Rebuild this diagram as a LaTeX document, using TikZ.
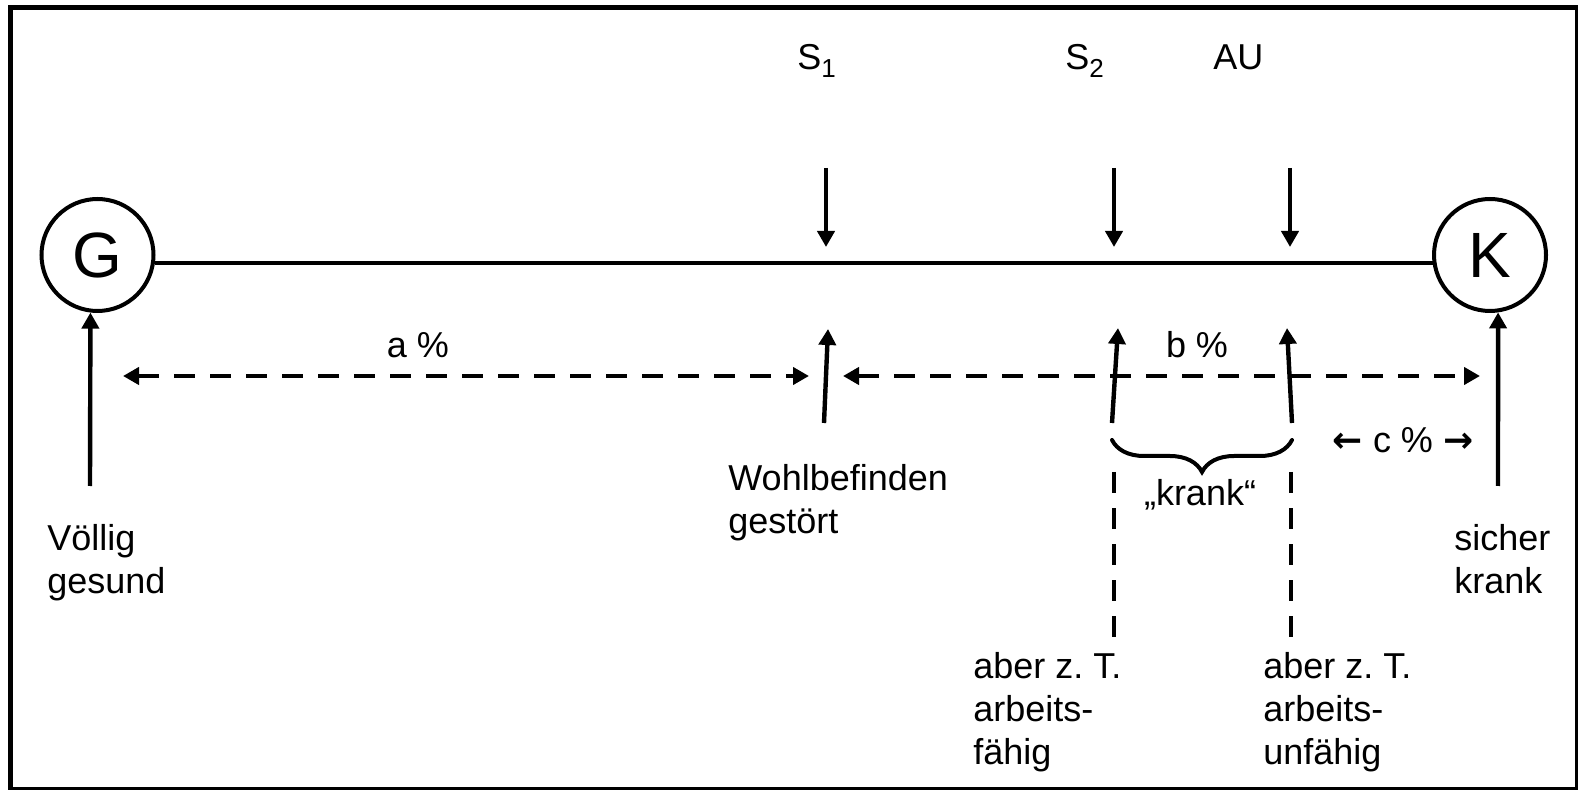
\documentclass[tikz,border=0pt]{standalone}
\usepackage{fontspec}
\setmainfont{Liberation Sans}
\newfontfamily\arrowfont{DejaVu Sans}
\usetikzlibrary{arrows.meta,decorations.pathreplacing}
\frenchspacing
\begin{document}
\begin{tikzpicture}[x=0.5pt,y=-0.5pt,
  lbl/.style={font=\fontsize{18}{21.5}\selectfont, inner sep=0pt, anchor=base west, align=left},
  endpt/.style={circle, draw, line width=2pt, minimum size=56pt, inner sep=0pt, font=\fontsize{32}{38}\selectfont},
  arr/.style={line width=2.2pt, -{Triangle[length=8pt,width=8.5pt]}},
  darr/.style={line width=2.2pt, dash pattern=on 10.5pt off 7.5pt, {Triangle[length=8pt,width=8.5pt]}-{Triangle[length=8pt,width=8.5pt]}},
  dline/.style={line width=2.2pt, dash pattern=on 10.5pt off 7.5pt},
  bracestyle/.style={line width=2pt, line cap=round, decorate, decoration={brace, mirror, amplitude=16pt}}]
\useasboundingbox (0,0) rectangle (1578,790);
\draw[line width=2.5pt] (10,8) rectangle (1577,789.5);

% end points
\node[endpt] (G) at (97.5,255) {G};
\node[endpt] (K) at (1490,255) {K};
\draw[line width=2pt] (G.-8) -- (K.188);

% top labels
\node[lbl] (s1) at (797,70) {S\raisebox{-4pt}{\fontsize{13}{13}\selectfont 1}};
\node[lbl] (s2) at (1065,70) {S\raisebox{-4pt}{\fontsize{13}{13}\selectfont 2}};
\node[lbl] (au) at (1213,70) {AU};

% down arrows
\coordinate (d1a) at (826,168); \coordinate (d1b) at (826,247);
\coordinate (d2a) at (1114,168); \coordinate (d2b) at (1114,247);
\coordinate (d3a) at (1290,168); \coordinate (d3b) at (1290,247);
\draw[arr] (d1a) -- (d1b);
\draw[arr] (d2a) -- (d2b);
\draw[arr] (d3a) -- (d3b);

% up arrows to G and K
\coordinate (gb) at (90,486);
\coordinate (kb) at (1498,486);
\draw[arr] (gb) -- (G.-97);
\draw[arr] (kb) -- (K.-82);

% tilted up arrows
\coordinate (u1b) at (824,423); \coordinate (u1t) at (828,329);
\coordinate (u2b) at (1112,423); \coordinate (u2t) at (1118,328);
\coordinate (u3b) at (1292,423); \coordinate (u3t) at (1287,328);
\draw[arr] (u1b) -- (u1t);
\draw[arr] (u2b) -- (u2t);
\draw[arr] (u3b) -- (u3t);

% dashed range arrows
\coordinate (ra1) at (123,376); \coordinate (ra2) at (809,376);
\coordinate (rb1) at (843,376); \coordinate (rb2) at (1480,376);
\draw[darr] (ra1) -- (ra2);
\draw[darr] (rb1) -- (rb2);
\node[lbl, anchor=base] (alab) at (418,358) {a \%};
\node[lbl, anchor=base] (blab) at (1197,358) {b \%};
\node[lbl, anchor=base] (clab) at (1403,453) {{\arrowfont\bfseries ←} c \% {\arrowfont\bfseries →}};

% brace
\coordinate (brl) at (1112,440); \coordinate (brr) at (1292,440);
\draw[bracestyle] (brl) -- (brr);
\node[lbl, anchor=base] (krank) at (1200,506) {„krank“};

% dashed verticals
\coordinate (v1a) at (1114,472); \coordinate (v1b) at (1114,642);
\coordinate (v2a) at (1291,472); \coordinate (v2b) at (1291,642);
\draw[dline] (v1a) -- (v1b);
\draw[dline] (v2a) -- (v2b);

% bottom labels (anchor at baseline of last line)
\node[lbl] (gesund) at (47,593) {Völlig\\gesund};
\node[lbl] (wohl) at (728,533) {Wohlbefinden\\gestört};
\node[lbl] (af) at (973,764) {aber z. T.\\arbeits-\\fähig};
\node[lbl] (auf) at (1263,764) {aber z. T.\\arbeits-\\unfähig};
\node[lbl] (krank2) at (1454,593) {sicher\\krank};
\end{tikzpicture}
\end{document}
